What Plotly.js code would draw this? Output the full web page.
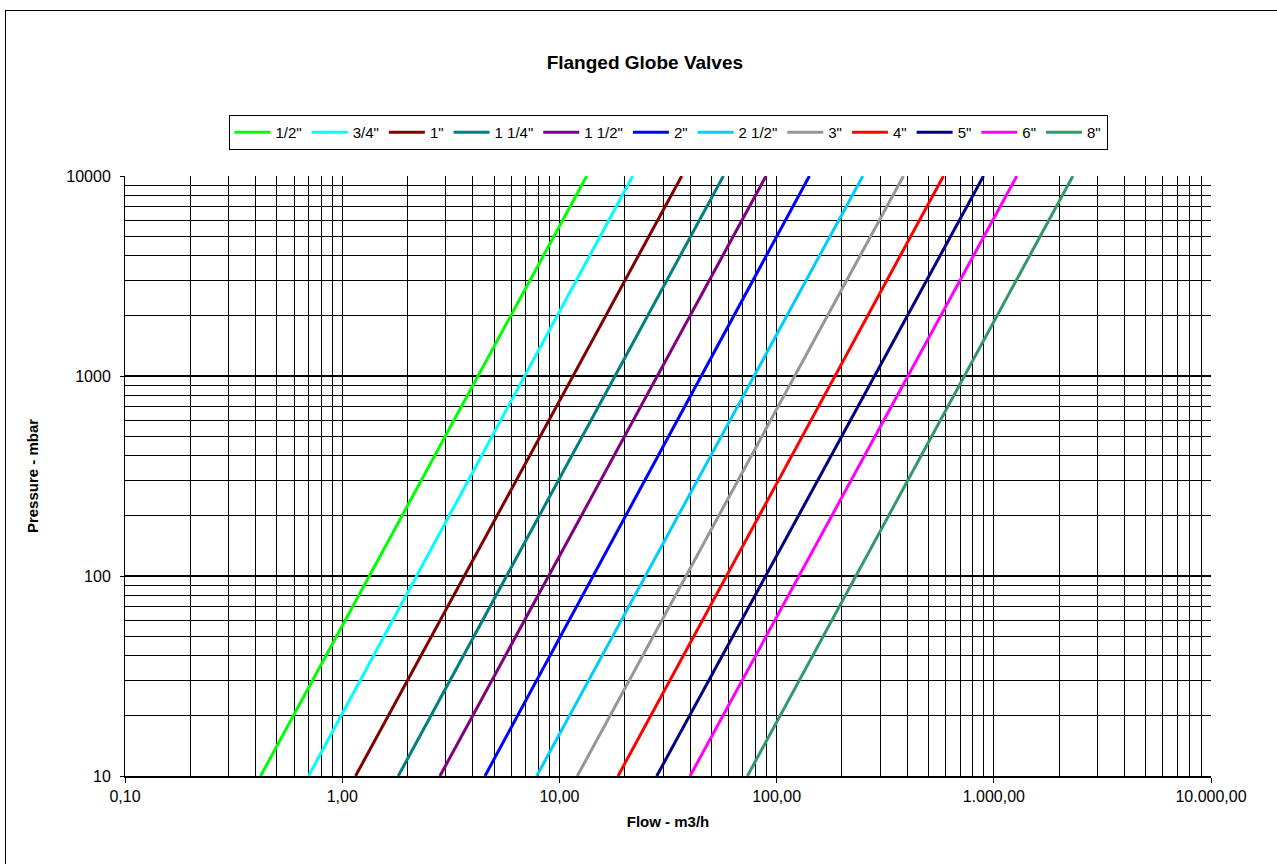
<!DOCTYPE html>
<html>
<head>
<meta charset="utf-8">
<script src="https://cdn.plot.ly/plotly-3.0.1.min.js"></script>
<style>
html,body{margin:0;padding:0;background:#fff;}
#chart{width:1277px;height:864px;}
#frame{position:absolute;left:5px;top:10px;width:1300px;height:900px;border-left:1px solid #000;border-top:1px solid #000;pointer-events:none;}
</style>
</head>
<body>
<div id="chart"></div>
<div id="frame"></div>
<script>
// Series names and colours
var sizes = ['1/2"', '3/4"', '1"', '1 1/4"', '1 1/2"', '2"', '2 1/2"', '3"', '4"', '5"', '6"', '8"'];
var colors = ['#00FF00', '#00FFFF', '#800000', '#008080', '#800080', '#0000FF', '#00CCFF', '#969696', '#FF0000', '#000080', '#FF00FF', '#339966'];
// Pressure endpoints (mbar)
var pressure = [10, 10000];
// Flow (m3/h) at 10 mbar and at 10000 mbar
var flowAt10 = [0.421, 0.700, 1.152, 1.811, 2.818, 4.543, 7.86, 12.09, 18.62, 28.06, 39.96, 73.4];
var flowAt10000 = [13.36, 21.76, 36.58, 56.9, 89.4, 141.6, 249.5, 383.7, 586.6, 896.6, 1277, 2313];
// Tick labels
var xTickVals = [0.1, 1, 10, 100, 1000, 10000];
var xTickText = ['0,10', '1,00', '10,00', '100,00', '1.000,00', '10.000,00'];
var yTickVals = [10, 100, 1000, 10000];
var yTickText = ['10', '100', '1000', '10000'];

var traces = sizes.map(function (name, i) {
  return {
    type: 'scatter', mode: 'lines', name: name,
    x: [flowAt10[i], flowAt10000[i]],
    y: pressure,
    line: {color: colors[i], width: 3},
    hoverinfo: 'x+y+name'
  };
});

function minorVals(lo, hi) {
  var v = [];
  for (var d = lo; d < hi; d *= 10) {
    for (var k = 2; k <= 9; k++) v.push(d * k);
  }
  return v;
}

var fam = 'Liberation Sans, Arial, sans-serif';

var layout = {
  width: 1277, height: 864,
  paper_bgcolor: '#fff', plot_bgcolor: '#fff',
  margin: {l: 125, r: 66, t: 176, b: 88},
  font: {family: fam, color: '#000', size: 16},
  showlegend: true,
  title: {text: '<b>Flanged Globe Valves</b>', x: 0.505, xanchor: 'center', y: 0.928, yanchor: 'middle', font: {family: fam, size: 19, color: '#000'}},
  legend: {
    orientation: 'h', x: 0.5, xanchor: 'center', y: 1.0725, yanchor: 'middle',
    bordercolor: '#000', borderwidth: 1, bgcolor: '#fff',
    font: {family: fam, size: 15, color: '#000'},
    itemwidth: 36
  },
  xaxis: {
    type: 'log', range: [-1, 4],
    tickmode: 'array', tickvals: xTickVals, ticktext: xTickText,
    ticks: 'outside', ticklen: 5, tickcolor: '#000', tickwidth: 1,
    showgrid: true, gridcolor: '#000', gridwidth: 1,
    showline: true, linecolor: '#000', linewidth: 2,
    zeroline: false,
    tickfont: {family: fam, size: 16, color: '#000'},
    title: {text: '<b>Flow - m3/h</b>', standoff: 12, font: {family: fam, size: 15, color: '#000'}},
    minor: {tickmode: 'array', tickvals: minorVals(0.1, 10000), showgrid: true, gridcolor: '#000', gridwidth: 1, ticks: ''}
  },
  yaxis: {
    type: 'log', range: [1, 4],
    tickmode: 'array', tickvals: yTickVals, ticktext: yTickText,
    ticks: 'outside', ticklen: 4, tickcolor: '#000', tickwidth: 1,
    ticklabelstandoff: 6,
    showgrid: true, gridcolor: '#000', gridwidth: 2.5,
    showline: true, linecolor: '#000', linewidth: 1,
    zeroline: false,
    tickfont: {family: fam, size: 16, color: '#000'},
    title: {text: '<b>Pressure - mbar</b>', standoff: 24, font: {family: fam, size: 15, color: '#000'}},
    minor: {tickmode: 'array', tickvals: minorVals(10, 10000), showgrid: true, gridcolor: '#000', gridwidth: 1, ticks: ''}
  }
};

Plotly.newPlot('chart', traces, layout, {displayModeBar: false, staticPlot: true});
</script>
</body>
</html>
